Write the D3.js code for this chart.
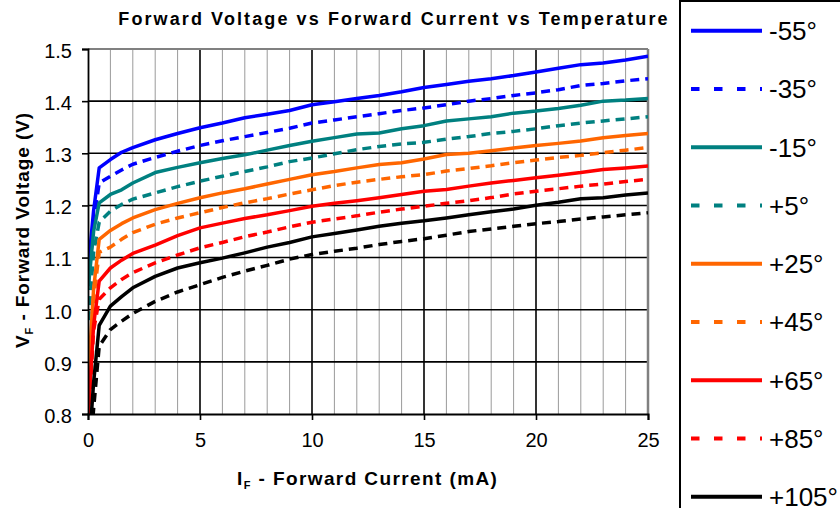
<!DOCTYPE html>
<html>
<head>
<meta charset="utf-8">
<script src="https://cdn.jsdelivr.net/npm/d3@7"></script>
<style>
  html, body { margin: 0; padding: 0; background: #fff; }
  svg { display: block; font-family: Arial, "Liberation Sans", sans-serif; }
</style>
</head>
<body>
<svg id="chart" width="840" height="508"></svg>
<script>
// ---- Data ----
const currents = [0.02, 0.25, 0.5, 1, 1.5, 2, 3, 4, 5, 6, 7, 8, 9, 10, 11, 12, 13, 14, 15, 16, 17, 18, 19, 20, 21, 22, 23, 24, 25];

const vM55  = [1.085, 1.19, 1.272, 1.288, 1.302, 1.311, 1.326, 1.338, 1.349, 1.358, 1.368, 1.375, 1.382, 1.393, 1.399, 1.405, 1.411, 1.418, 1.426, 1.432, 1.438, 1.443, 1.449, 1.456, 1.463, 1.470, 1.473, 1.479, 1.486];
const vM35  = [1.05, 1.17, 1.243, 1.256, 1.268, 1.279, 1.292, 1.304, 1.315, 1.324, 1.332, 1.340, 1.348, 1.358, 1.364, 1.370, 1.376, 1.382, 1.387, 1.393, 1.400, 1.405, 1.411, 1.416, 1.422, 1.430, 1.434, 1.439, 1.443];
const vM15  = [1.045, 1.15, 1.205, 1.221, 1.230, 1.243, 1.263, 1.273, 1.282, 1.290, 1.297, 1.306, 1.315, 1.323, 1.330, 1.337, 1.339, 1.347, 1.353, 1.362, 1.366, 1.370, 1.377, 1.381, 1.386, 1.392, 1.400, 1.402, 1.405];
const vP5   = [0.98, 1.11, 1.168, 1.189, 1.202, 1.212, 1.224, 1.236, 1.2465, 1.256, 1.265, 1.274, 1.284, 1.291, 1.299, 1.307, 1.313, 1.318, 1.321, 1.327, 1.332, 1.338, 1.342, 1.347, 1.353, 1.358, 1.362, 1.366, 1.370];
const vP25  = [0.875, 1.04, 1.135, 1.152, 1.165, 1.176, 1.192, 1.204, 1.2146, 1.224, 1.232, 1.241, 1.250, 1.259, 1.265, 1.272, 1.2785, 1.282, 1.289, 1.2977, 1.300, 1.305, 1.310, 1.315, 1.319, 1.3235, 1.3298, 1.334, 1.338];
const vP45  = [0.84, 1.02, 1.11, 1.12, 1.135, 1.148, 1.164, 1.176, 1.186, 1.196, 1.205, 1.213, 1.222, 1.230, 1.238, 1.2446, 1.250, 1.255, 1.259, 1.266, 1.271, 1.276, 1.282, 1.287, 1.292, 1.296, 1.301, 1.306, 1.311];
const vP65  = [0.80, 0.97, 1.055, 1.08, 1.095, 1.108, 1.124, 1.142, 1.157, 1.166, 1.175, 1.182, 1.190, 1.1985, 1.204, 1.209, 1.2146, 1.221, 1.2273, 1.2305, 1.237, 1.243, 1.248, 1.253, 1.258, 1.263, 1.269, 1.272, 1.2755];
const vP85  = [0.79, 0.96, 1.02, 1.042, 1.058, 1.071, 1.09, 1.105, 1.1186, 1.129, 1.140, 1.149, 1.159, 1.1678, 1.174, 1.180, 1.187, 1.193, 1.1985, 1.204, 1.209, 1.215, 1.222, 1.2273, 1.232, 1.237, 1.241, 1.246, 1.250];
const vP105 = [0.72, 0.86, 0.97, 1.007, 1.025, 1.042, 1.064, 1.080, 1.090, 1.099, 1.109, 1.120, 1.129, 1.1397, 1.146, 1.153, 1.160, 1.166, 1.1705, 1.176, 1.182, 1.188, 1.193, 1.2004, 1.206, 1.2127, 1.2146, 1.220, 1.224];
const vP125 = [0.68, 0.81, 0.93, 0.962, 0.978, 0.993, 1.016, 1.034, 1.048, 1.062, 1.074, 1.085, 1.097, 1.1058, 1.112, 1.118, 1.125, 1.131, 1.136, 1.143, 1.150, 1.155, 1.160, 1.165, 1.169, 1.174, 1.178, 1.182, 1.186];

const seriesNames = ["-55°", "-35°", "-15°", "+5°", "+25°", "+45°", "+65°", "+85°", "+105°", "+125°"];
const seriesValues = [vM55, vM35, vM15, vP5, vP25, vP45, vP65, vP85, vP105, vP125];
const seriesColors = ["#0000FF", "#0000FF", "#008080", "#008080", "#FF6600", "#FF6600", "#FF0000", "#FF0000", "#000000", "#000000"];
const seriesDashed = [false, true, false, true, false, true, false, true, false, true];

const xTicks = [0, 5, 10, 15, 20, 25];
const yTicks = [0.8, 0.9, 1.0, 1.1, 1.2, 1.3, 1.4, 1.5];

// ---- Layout ----
const svg = d3.select("#chart");
const L = 88, R = 648, T = 49, B = 414;
const x = d3.scaleLinear().domain([0, 25]).range([L, R]);
const y = d3.scaleLinear().domain([0.8, 1.5]).range([B, T]);

svg.append("rect").attr("width", 840).attr("height", 508).attr("fill", "#fff");

// minor vertical grid
const minor = d3.range(1, 25).filter(v => v % 5 !== 0);
svg.append("g").selectAll("line").data(minor).join("line")
  .attr("x1", d => x(d)).attr("x2", d => x(d))
  .attr("y1", T).attr("y2", B)
  .attr("stroke", "#9a9a9a").attr("stroke-width", 1);

// major vertical grid
svg.append("g").selectAll("line").data(xTicks.filter(v => v > 0 && v < 25)).join("line")
  .attr("x1", d => x(d)).attr("x2", d => x(d))
  .attr("y1", T).attr("y2", B)
  .attr("stroke", "#000").attr("stroke-width", 1.6);

// horizontal grid
svg.append("g").selectAll("line").data(yTicks.filter(v => v > 0.85 && v < 1.45)).join("line")
  .attr("x1", L).attr("x2", R)
  .attr("y1", d => y(d)).attr("y2", d => y(d))
  .attr("stroke", "#000").attr("stroke-width", 1.6);

// plot border top/right (gray)
svg.append("line").attr("x1", L).attr("x2", R).attr("y1", T).attr("y2", T)
  .attr("stroke", "#808080").attr("stroke-width", 2);
svg.append("line").attr("x1", R).attr("x2", R).attr("y1", T).attr("y2", B)
  .attr("stroke", "#808080").attr("stroke-width", 2.5);

// clip
svg.append("clipPath").attr("id", "plotclip").append("rect")
  .attr("x", L).attr("y", T - 2).attr("width", R - L).attr("height", B - T + 2);

const line = d3.line().x(d => x(d[0])).y(d => y(d[1]));
const gLines = svg.append("g").attr("clip-path", "url(#plotclip)");
seriesValues.forEach((vals, i) => {
  const pts = currents.map((c, k) => [c, vals[k]]);
  gLines.append("path").datum(pts)
    .attr("d", line)
    .attr("fill", "none")
    .attr("stroke", seriesColors[i])
    .attr("stroke-width", 3.5)
    .attr("stroke-linejoin", "round")
    .attr("stroke-dasharray", seriesDashed[i] ? "9,6" : null);
});

// axes
const yAxis = d3.axisLeft(y).tickValues(yTicks).tickSize(6).tickFormat(d3.format(".1f"));
const gy = svg.append("g").attr("transform", `translate(${L},0)`).call(yAxis);
gy.select(".domain").attr("stroke", "#000").attr("stroke-width", 1.8);
gy.selectAll(".tick line").attr("stroke", "#000").attr("stroke-width", 1.6);
gy.selectAll(".tick text").attr("x", -16).attr("dy", "0.42em")
  .attr("font-size", 20).attr("font-family", "Arial, 'Liberation Sans', sans-serif").attr("fill", "#000");

const xAxis = d3.axisBottom(x).tickValues(xTicks).tickSize(6).tickFormat(d3.format("d"));
const gx = svg.append("g").attr("transform", `translate(0,${B})`).call(xAxis);
gx.select(".domain").attr("stroke", "#000").attr("stroke-width", 2);
gx.selectAll(".tick line").attr("stroke", "#000").attr("stroke-width", 1.6);
gx.selectAll(".tick text").attr("y", 19).attr("dy", "0.71em")
  .attr("font-size", 20).attr("font-family", "Arial, 'Liberation Sans', sans-serif").attr("fill", "#000");

// title
svg.append("text").attr("x", 394).attr("y", 25).attr("text-anchor", "middle")
  .attr("font-size", 18).attr("font-weight", "bold").attr("letter-spacing", "2.1px")
  .text("Forward Voltage vs Forward Current vs Temperature");

// x axis title
const xt = svg.append("text").attr("x", 237).attr("y", 485)
  .attr("font-size", 19).attr("font-weight", "bold").attr("letter-spacing", "1.4px");
xt.append("tspan").text("I");
xt.append("tspan").attr("font-size", 11).attr("dy", 4).text("F");
xt.append("tspan").attr("dy", -4).text(" - Forward Current (mA)");

// y axis title
const yt = svg.append("text").attr("transform", "translate(29,230) rotate(-90)")
  .attr("text-anchor", "middle")
  .attr("font-size", 19).attr("font-weight", "bold").attr("letter-spacing", "0.9px");
yt.append("tspan").text("V");
yt.append("tspan").attr("font-size", 11).attr("dy", 4).text("F");
yt.append("tspan").attr("dy", -4).text(" - Forward Voltage (V)");

// legend
const lg = svg.append("g");
lg.append("rect").attr("x", 680).attr("y", 1).attr("width", 220).attr("height", 620)
  .attr("fill", "#fff").attr("stroke", "#000").attr("stroke-width", 2);
seriesNames.forEach((name, i) => {
  const cy = 30.7 + i * 58.25;
  lg.append("line").attr("x1", 691).attr("x2", 762).attr("y1", cy).attr("y2", cy)
    .attr("stroke", seriesColors[i]).attr("stroke-width", 4)
    .attr("stroke-dasharray", seriesDashed[i] ? "8.5,14.5" : null);
  lg.append("text").attr("x", 769).attr("y", cy + 9.5)
    .attr("font-size", 26).attr("fill", "#000").text(name);
});
</script>
</body>
</html>
